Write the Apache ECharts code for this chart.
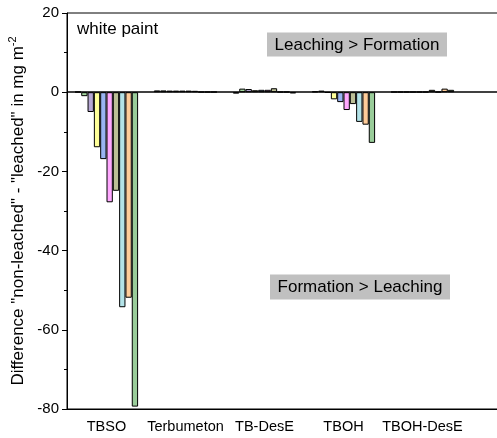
<!DOCTYPE html>
<html>
<head>
<meta charset="utf-8">
<script src="https://cdn.jsdelivr.net/npm/echarts@6/dist/echarts.min.js"></script>
<style>html,body{margin:0;padding:0;background:#fff;overflow:hidden}#c{width:497px;height:438px}</style>
</head>
<body>
<div id="c"></div>
<script>
var categories = ['TBSO', 'Terbumeton', 'TB-DesE', 'TBOH', 'TBOH-DesE', ''];
var yTicks = [-80, -60, -40, -20, 0, 20];
var s1 = [0.1, 0.45, -0.35, 0.2, 0.1];
var s2 = [-1.0, 0.45, 0.9, 0.4, 0.1];
var s3 = [-5.0, 0.4, 0.8, -0.1, 0.1];
var s4 = [-13.9, 0.4, 0.5, -1.8, 0.1];
var s5 = [-16.9, 0.4, 0.6, -2.5, 0.1];
var s6 = [-27.8, 0.4, 0.6, -4.5, 0.1];
var s7 = [-24.9, 0.35, 1.0, -3.0, 0.6];
var s8 = [-54.3, 0.1, 0.1, -7.5, 0.1];
var s9 = [-51.9, 0.1, 0.1, -8.2, 0.9];
var s10 = [-79.4, 0.1, -0.3, -12.8, 0.6];
var seriesData = [s1, s2, s3, s4, s5, s6, s7, s8, s9, s10];
var colors = ['#7f7f7f', '#a6d9a0', '#b6a7d4', '#ffff99', '#99b4f2', '#ffa8ff', '#bcbf96', '#b3e3e8', '#ffcc99', '#99cc99'];

var FONT = 'Arial, "Liberation Sans", sans-serif';
var chart = echarts.init(document.getElementById('c'), null, {renderer: 'canvas'});
var series = seriesData.map(function (d, i) {
  var s = {
    name: 'S' + (i + 1),
    type: 'bar',
    data: d,
    barGap: '0%',
    barCategoryGap: '20%',
    itemStyle: {color: colors[i], borderColor: '#000', borderWidth: 1},
    silent: true
  };
  if (i === 0) {
    s.markLine = {
      silent: true, symbol: ['none', 'none'], label: {show: false},
      lineStyle: {color: '#000', width: 1.6, type: 'solid'},
      data: [{yAxis: 0}]
    };
  }
  return s;
});

chart.setOption({
  animation: false,
  backgroundColor: '#fff',
  grid: {left: 67, top: 13, width: 474, height: 396, outerBoundsMode: 'none', containLabel: false, show: true, borderColor: '#000', borderWidth: 1, backgroundColor: 'transparent'},
  xAxis: {
    type: 'category', data: categories,
    axisLine: {onZero: false, lineStyle: {color: '#000', width: 1}},
    axisTick: {show: false},
    axisLabel: {color: '#000', fontSize: 14.5, fontFamily: FONT, margin: 10, interval: 0}
  },
  yAxis: {
    type: 'value', min: yTicks[0], max: yTicks[yTicks.length - 1], interval: 20,
    axisLine: {show: true, lineStyle: {color: '#000', width: 1}},
    axisTick: {show: true, inside: false, length: 5, lineStyle: {color: '#000'}},
    minorTick: {show: true, splitNumber: 2, length: 3, lineStyle: {color: '#000'}},
    splitLine: {show: false},
    axisLabel: {color: '#000', fontSize: 15, fontFamily: FONT, margin: 8},
    name: '{a|Difference "non-leached" - "leached" in mg m}{s|-2}',
    nameLocation: 'middle', nameGap: 34, nameRotate: 90,
    nameTextStyle: {
      color: '#000', fontFamily: FONT,
      rich: {
        a: {fontSize: 17, fontFamily: FONT, color: '#000'},
        s: {fontSize: 11, fontFamily: FONT, color: '#000', verticalAlign: 'top', padding: [0, 0, 9, 0]}
      }
    }
  },
  series: series,
  graphic: [
    {type: 'text', left: 77, top: 21, style: {text: 'white paint', font: '17px ' + FONT, fill: '#000'}},
    {type: 'rect', shape: {x: 267, y: 32.5, width: 180, height: 24}, style: {fill: '#c0c0c0'}},
    {type: 'text', style: {x: 357, y: 45, text: 'Leaching > Formation', font: '17px ' + FONT, fill: '#000', textAlign: 'center', textVerticalAlign: 'middle'}},
    {type: 'rect', shape: {x: 270, y: 274.5, width: 180, height: 25}, style: {fill: '#c0c0c0'}},
    {type: 'text', style: {x: 360, y: 287.5, text: 'Formation > Leaching', font: '17px ' + FONT, fill: '#000', textAlign: 'center', textVerticalAlign: 'middle'}}
  ]
});
</script>
</body>
</html>
